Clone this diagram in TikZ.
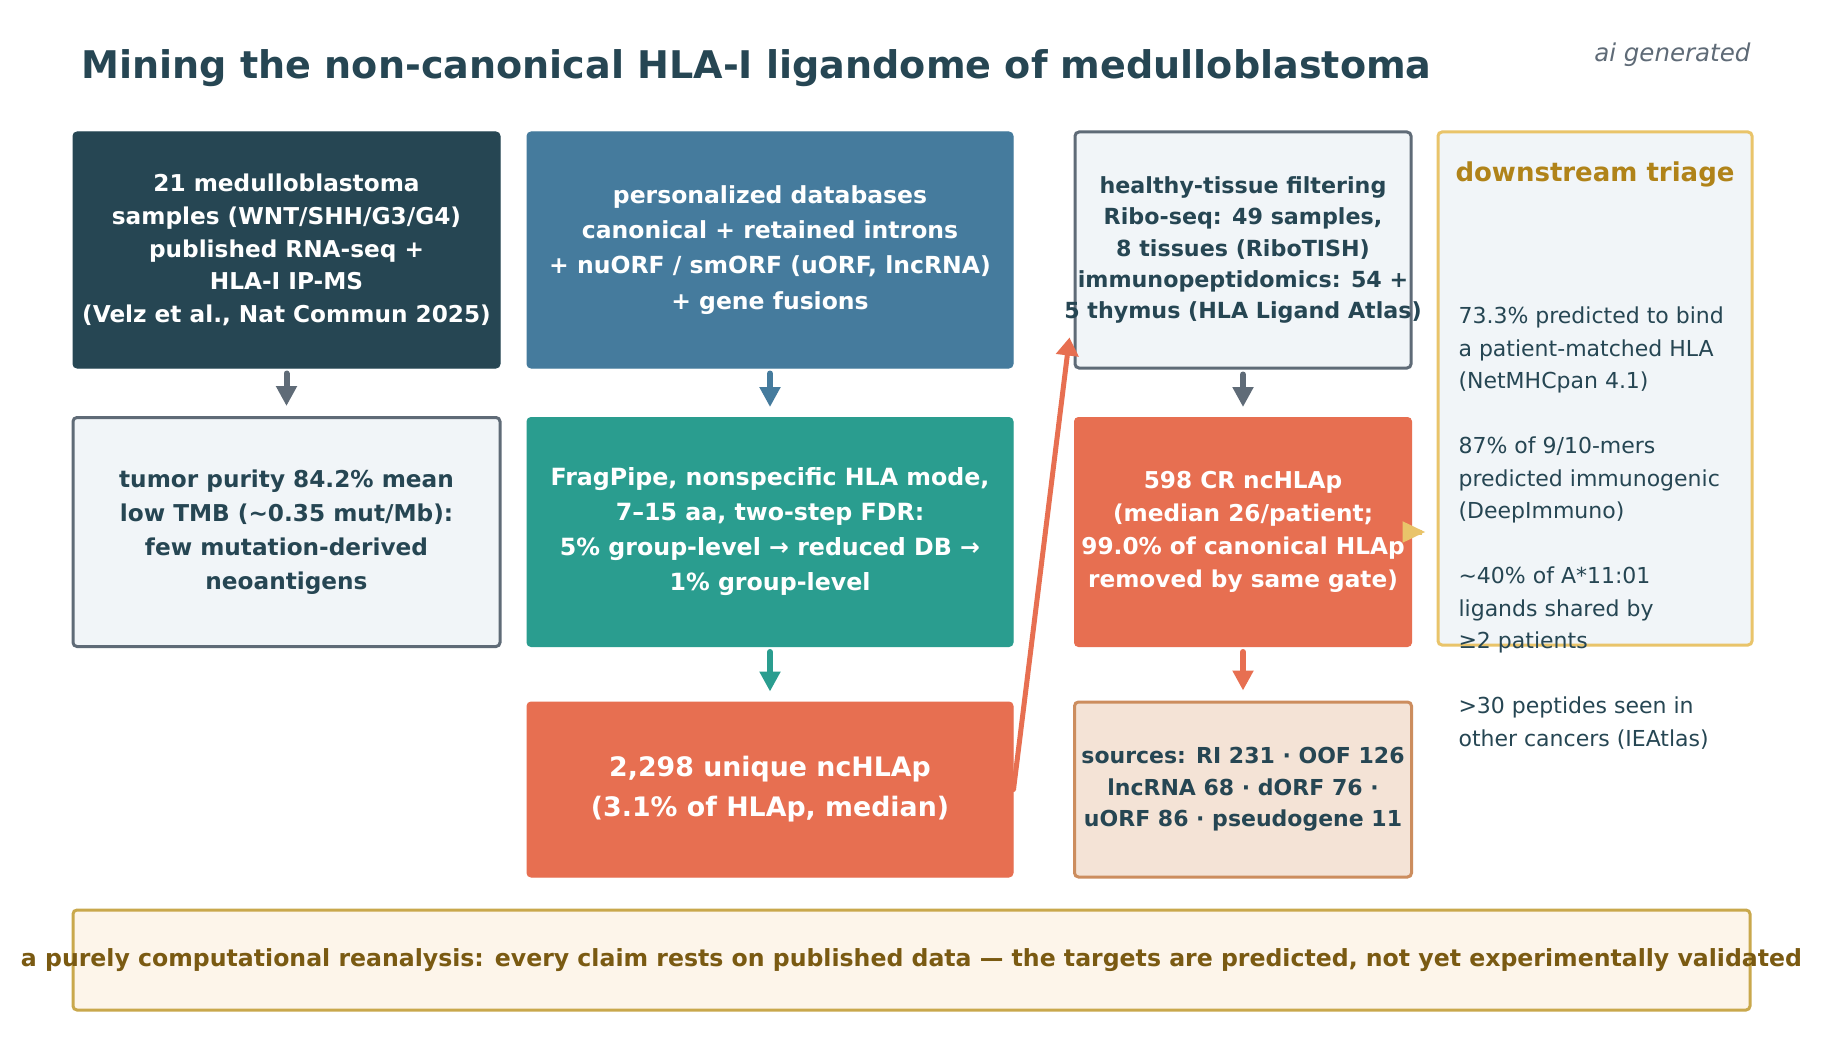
\documentclass[tikz,border=0pt]{standalone}
\usepackage{fontspec}
\setmainfont{DejaVu Sans}
\usepackage{xcolor}
\usetikzlibrary{arrows.meta}
\usetikzlibrary{math}
\usetikzlibrary{calc}

\definecolor{ink}{HTML}{264653}
\definecolor{slate}{HTML}{5F6B77}
\definecolor{steel}{HTML}{457B9D}
\definecolor{jade}{HTML}{2A9D8F}
\definecolor{coral}{HTML}{E76F51}
\definecolor{mist}{HTML}{F1F5F8}
\definecolor{sand}{HTML}{E9C46A}
\definecolor{ochre}{HTML}{B08319}
\definecolor{peach}{HTML}{F4E3D6}
\definecolor{clay}{HTML}{CC8D5E}
\definecolor{cream}{HTML}{FDF5EA}
\definecolor{brass}{HTML}{C9A84C}
\definecolor{umber}{HTML}{7A5A12}

\begin{document}
\begin{tikzpicture}[x=1pt,y=-1pt,
    fs/.style 2 args={font=\fontsize{#1}{#2}\selectfont\bfseries},
    fsr/.style 2 args={font=\fontsize{#1}{#2}\selectfont},
    box/.style={rectangle, rounded corners=4pt, inner sep=0pt, align=center},
    filledbox/.style={box, fill=#1, draw=#1, line width=1pt, text=white},
    palebox/.style={box, fill=mist, draw=slate, line width=3pt, text=ink},
    flow/.style={draw=#1, line width=6pt, line cap=round, shorten <=5pt, shorten >=10pt,
      -{Triangle[length=20pt,width=20pt]}}]

  \tikzmath{
    \colA = 286.5; % centre of input column
    \colB = 770;   % centre of search column
    \colC = 1243;  % centre of filter column
    \colD = 1595;  % centre of triage column
    \rowA = 250;   % centre of top row
    \rowB = 532;   % centre of middle row
    \rowC = 789.5; % centre of bottom row
  }

  % page
  \fill[white] (0,0) rectangle (1822,1056);
  \useasboundingbox (0,0) rectangle (1822,1056);

  % heading
  \node[anchor=base west, text=ink, fs={38.1}{44}] (title) at (78,79)
    {Mining the non-canonical HLA-I ligandome of medulloblastoma};
  \node[anchor=base east, text=slate, font=\fontsize{24.5}{28}\selectfont\itshape] (stamp)
    at (1754,62) {ai generated};

  % top row
  \node[filledbox=ink, fs={23.2}{32.8}, minimum width=427pt, minimum height=236pt]
    (samples) at (\colA,\rowA)
    {21 medulloblastoma\\samples (WNT/SHH/G3/G4)\\published RNA-seq +\\HLA-I IP-MS\\(Velz et al., Nat Commun 2025)};
  \node[filledbox=steel, fs={23.5}{35.2}, minimum width=486pt, minimum height=236pt]
    (databases) at (\colB,\rowA)
    {personalized databases\\canonical + retained introns\\+ nuORF / smORF (uORF, lncRNA)\\+ gene fusions};
  \node[palebox, minimum width=336pt, minimum height=236pt] (filtering) at (\colC,\rowA) {};
  \node[fs={22.2}{31.3}, text=ink, align=center] (filtertext) at (filtering)
    {healthy-tissue filtering\\Ribo-seq: 49 samples,\\8 tissues (RiboTISH)\\immunopeptidomics: 54 +\\5 thymus (HLA Ligand Atlas)};

  % triage panel
  \node[box, fill=mist, draw=sand, line width=3pt, minimum width=314pt, minimum height=513pt]
    (triage) at (\colD,388.5) {};
  \node[anchor=base, text=ochre, fs={26}{30}] (triagehead) at (\colD,182) {downstream triage};
  \node[anchor=north west, text=ink, fsr={22}{32.5}, align=left] (triagetext) at (1455,303.5)
    {73.3\% predicted to bind\\a patient-matched HLA\\(NetMHCpan 4.1)\\[32.5pt]
     87\% of 9/10-mers\\predicted immunogenic\\(DeepImmuno)\\[32.5pt]
     \textasciitilde40\% of A*11:01\\ligands shared by\\≥2 patients\\[32.5pt]
     >30 peptides seen in\\other cancers (IEAtlas)};

  % middle row
  \node[palebox, fs={23.2}{34}, minimum width=427pt, minimum height=229pt]
    (purity) at (\colA,\rowB)
    {tumor purity 84.2\% mean\\low TMB (\textasciitilde0.35 mut/Mb):\\few mutation-derived\\neoantigens};
  \node[filledbox=jade, fs={23.7}{35}, minimum width=486pt, minimum height=229pt]
    (search) at (\colB,\rowB)
    {FragPipe, nonspecific HLA mode,\\7–15 aa, two-step FDR:\\5\% group-level → reduced DB →\\1\% group-level};
  \node[filledbox=coral, fs={23.2}{33}, minimum width=337pt, minimum height=229pt]
    (crncp) at (\colC,\rowB)
    {598 CR ncHLAp\\(median 26/patient;\\99.0\% of canonical HLAp\\removed by same gate)};

  % bottom row
  \node[filledbox=coral, fs={26.8}{40}, minimum width=486pt, minimum height=175pt]
    (unique) at (\colB,\rowC)
    {2,298 unique ncHLAp\\(3.1\% of HLAp, median)};
  \node[box, fill=peach, draw=clay, line width=3pt, text=ink, fs={22}{31.5},
    minimum width=337pt, minimum height=175pt] (sources) at (\colC,\rowC)
    {sources: RI 231 · OOF 126\\lncRNA 68 · dORF 76 ·\\uORF 86 · pseudogene 11};

  % caveat strip
  \node[box, fill=cream, draw=brass, line width=3pt, minimum width=1677pt, minimum height=100pt]
    (caveat) at (911.5,960) {};
  \node[text=umber, fs={23.6}{28}] (caveattext) at (caveat)
    {a purely computational reanalysis: every claim rests on published data — the targets are predicted, not yet experimentally validated};

  % arrows down the columns
  \draw[flow=slate] (samples) -- (purity);
  \draw[flow=steel] (databases) -- (search);
  \draw[flow=slate] (filtering) -- (crncp);
  \draw[flow=jade] (search) -- (unique);
  \draw[flow=coral] (crncp) -- (sources);

  % ncHLAp back up to the filter
  \coordinate (rise) at ([xshift=-4pt,yshift=32pt]filtering.south west);
  \draw[flow=coral, line width=5pt, shorten <=0pt, shorten >=0pt,
    -{Triangle[length=18pt,width=22pt]}] (unique.east) -- (rise);

  % into the triage panel
  \draw[flow=sand, line width=5pt, line cap=butt, shorten <=-10pt, shorten >=11pt,
    -{Triangle[length=23pt,width=20pt]}] (crncp.east) -- (crncp.east -| triage.west);

\end{tikzpicture}
\end{document}
